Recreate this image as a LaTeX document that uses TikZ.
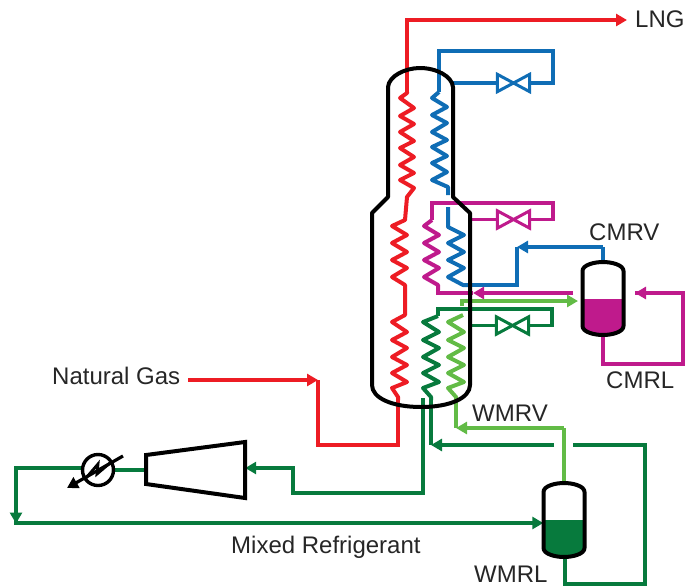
\documentclass[tikz,border=0pt]{standalone}
\usepackage{fontspec}
\setmainfont{Liberation Sans}
\usetikzlibrary{arrows.meta}
\definecolor{cred}{HTML}{ED1C24}
\definecolor{cblue}{HTML}{0F6DB5}
\definecolor{cmag}{HTML}{BF1A8C}
\definecolor{cdg}{HTML}{077A3D}
\definecolor{clg}{HTML}{62BB46}
\tikzset{
  pipe/.style={line width=3.6pt,miter limit=10},
  zig/.style={line width=4pt,line join=round},
  tiphead/.style={-{Triangle[length=11pt,width=12pt]}},
  wall/.style={draw=black,line width=4pt,line join=round},
  valveshape/.style={inner sep=0pt,minimum width=32pt,minimum height=17pt},
  vesselbox/.style={inner sep=0pt,minimum width=41pt},
  lbl/.style={font=\fontsize{24}{26}\selectfont,text=black!85,inner sep=0pt},
}
\newcommand{\valvedraw}[2]{\draw[#2,line width=3pt,line join=miter] (#1.north west) -- (#1.south east) -- (#1.north east) -- (#1.south west) -- cycle;}
\newcommand{\vesseldraw}[6]{% centre x, top, bottom, level, colour, half width
  \fill[#5] (#1-#6,#4) -- (#1+#6,#4) -- (#1+#6,#3-9) .. controls (#1+#6,#3-3) and (#1+9,#3) .. (#1,#3) .. controls (#1-9,#3) and (#1-#6,#3-3) .. (#1-#6,#3-9) -- cycle;
  \draw[wall] (#1-#6,#2+9) .. controls (#1-#6,#2+3) and (#1-9,#2) .. (#1,#2) .. controls (#1+9,#2) and (#1+#6,#2+3) .. (#1+#6,#2+9) -- (#1+#6,#3-9) .. controls (#1+#6,#3-3) and (#1+9,#3) .. (#1,#3) .. controls (#1-9,#3) and (#1-#6,#3-3) .. (#1-#6,#3-9) -- cycle;
}
\begin{document}
\begin{tikzpicture}[x=1pt,y=-1pt]
\useasboundingbox (0,0) rectangle (685,587);

% labels
\node[lbl,anchor=west] (lng) at (635,19) {LNG};
\node[lbl,anchor=west] (ng) at (52,376) {Natural Gas};
\node[lbl,anchor=west] (cmrv) at (589,232) {CMRV};
\node[lbl,anchor=west] (cmrl) at (606,380) {CMRL};
\node[lbl,anchor=west] (wmrv) at (472,413) {WMRV};
\node[lbl,anchor=west] (mr) at (231,547) {Mixed Refrigerant};
\node[lbl,anchor=west] (wmrl) at (474,574) {WMRL};

% equipment anchors
\node[vesselbox,minimum height=73pt] (cmv) at (603,298.5) {};
\node[vesselbox,minimum height=74pt] (wmv) at (564,520) {};
\node[valveshape] (v1) at (513.5,83) {};
\node[valveshape] (v2) at (513.5,219.5) {};
\node[valveshape] (v3) at (512.5,325.5) {};
\node[inner sep=0pt,minimum width=99pt,minimum height=28pt] (comp) at (195.5,470) {};
\node[circle,inner sep=0pt,minimum size=31pt] (hx) at (98,470) {};

% junction coordinates
\coordinate (lngtip) at (627,20);
\coordinate (r1) at (407,20);
\coordinate (r2) at (407,92);
\coordinate (r3) at (398,445);
\coordinate (r4) at (318,445);
\coordinate (r5) at (318,380);
\coordinate (ngs) at (188,380);

% ---- red stream
\draw[pipe,cred,tiphead] (r1) -- (lngtip);
\draw[pipe,cred] (r1) ++(0,-1.8) -- (r2);
\draw[zig,cred] (r2) -- (407,93) -- (400,98) -- (414,108) -- (400,116) -- (414,124) -- (400,132) -- (414,141) -- (400,148) -- (414,157) -- (400,165) -- (414,173) -- (400,180) -- (414,188) -- (407,197) -- (405,220) -- (392,226) -- (407,235) -- (392,243) -- (407,252) -- (392,260) -- (407,268) -- (392,277) -- (405,285) -- (405,315) -- (392,322) -- (407,332) -- (392,340) -- (407,348) -- (392,357) -- (407,365) -- (392,373) -- (407,382) -- (392,388) -- (398,397) -- (398,400);
\draw[pipe,cred] (398,398) -- (r3) -- (r4) -- (r5);
\draw[pipe,cred,tiphead] (ngs) -- (r5);

% ---- blue streams
\coordinate (b1) at (439,92);
\coordinate (b2) at (439,51);
\coordinate (b3) at (553,51);
\coordinate (b4) at (553,83);
\coordinate (bw) at (453,83);
\draw[pipe,cblue] (b1) -- (b2) -- (b3) -- (b4) -- (v1.east);
\draw[pipe,cblue] (v1.west) -- (bw);
\valvedraw{v1}{cblue}
\draw[zig,cblue] (b1) -- (432,98) -- (447,107) -- (432,115) -- (447,123) -- (432,132) -- (447,140) -- (432,147) -- (447,156) -- (432,163) -- (447,172) -- (432,180) -- (448,187) -- (448,195);
\coordinate (b5) at (448,207);
\coordinate (b6) at (517,285);
\coordinate (b7) at (517,247);
\coordinate (b8) at (603,247);
\draw[zig,cblue] (b5) -- (448,227) -- (464,235) -- (448,243) -- (464,252) -- (448,260) -- (464,268) -- (448,277) -- (463,285) -- (470,285);
\draw[pipe,cblue] (465,285) -- (b6) -- (b7);
\draw[pipe,cblue] (517,248.8) -- (b7);
\draw[pipe,cblue,tiphead] (b8) -- (b7);
\draw[pipe,cblue] (cmv.north) -- (b8);

% ---- magenta streams
\coordinate (m1) at (432,220);
\coordinate (m2) at (432,203);
\coordinate (m3) at (553,203);
\coordinate (m4) at (553,219.5);
\coordinate (mw) at (470,219.5);
\draw[pipe,cmag] (m1) -- (m2) -- (m3) -- (m4) -- (v2.east);
\draw[pipe,cmag] (v2.west) -- (mw);
\valvedraw{v2}{cmag}
\coordinate (m5) at (438,293);
\coordinate (m6) at (473,293);
\coordinate (m7) at (573,293);
\draw[zig,cmag] (m1) -- (424,226) -- (439,235) -- (424,243) -- (439,252) -- (424,260) -- (439,268) -- (424,277) -- (438,285) -- (438,290);
\draw[pipe,cmag] (438,285) -- (m5) -- (m6);
\draw[pipe,cmag,tiphead] (m7) -- (m6);
\coordinate (c1) at (603,364);
\coordinate (c2) at (683,364);
\coordinate (c3) at (683,293);
\coordinate (c4) at (635,293);
\draw[pipe,cmag] (cmv.south) -- (c1) -- (c2) -- (c3) -- (c4);
\draw[pipe,cmag,tiphead] (c3) -- (c4);

% ---- light green streams
\coordinate (l1) at (462,306);
\coordinate (l2) at (462,301);
\coordinate (l3) at (578,301);
\draw[pipe,clg] (l1) -- (l2) -- (470,301);
\draw[pipe,clg,tiphead] (l2) -- (l3);
\coordinate (l4) at (463,315);
\coordinate (l5) at (456,428);
\coordinate (l6) at (564,428);
\draw[zig,clg] (l4) -- (448,322) -- (464,332) -- (448,340) -- (464,348) -- (448,357) -- (464,365) -- (448,373) -- (464,382) -- (448,388) -- (456,397) -- (456,400);
\draw[pipe,clg] (456,398) -- (l5);
\draw[pipe,clg,tiphead] (l6) -- (l5);
\draw[pipe,clg] (wmv.north) -- (l6);

% ---- dark green streams
\coordinate (d1) at (438,316);
\coordinate (d2) at (438,309);
\coordinate (d3) at (552,309);
\coordinate (d4) at (552,325.5);
\coordinate (dw) at (470,325.5);
\draw[pipe,cdg] (d1) -- (d2) -- (d3) -- (d4) -- (v3.east);
\draw[pipe,cdg] (v3.west) -- (dw);
\valvedraw{v3}{cdg}
\coordinate (d5) at (431,445);
\coordinate (d6) at (554,445);
\coordinate (d7) at (573,445);
\coordinate (d8) at (645,445);
\coordinate (d9) at (645,584);
\coordinate (d10) at (565,584);
\draw[zig,cdg] (d1) -- (423,322) -- (439,332) -- (423,340) -- (439,348) -- (423,357) -- (439,365) -- (423,373) -- (439,382) -- (423,388) -- (431,397) -- (431,400);
\draw[pipe,cdg] (431,398) -- (d5);
\draw[pipe,cdg,tiphead] (d6) -- (d5);
\draw[pipe,cdg] (wmv.south -| d10) -- (d10) -- (d9) -- (d8) -- (d7);

\coordinate (e1) at (423,398);
\coordinate (e2) at (423,493);
\coordinate (e3) at (293,493);
\coordinate (e4) at (293,468);
\draw[pipe,cdg] (e1) -- (e2) -- (e3) -- (e4) -- (250,468);
\draw[pipe,cdg,tiphead] (e4) -- (comp.east |- e4);
\draw[pipe,cdg] (comp.west) -- (hx.east);
\coordinate (f1) at (16,468);
\coordinate (f2) at (16,523.5);
\draw[pipe,cdg] (hx.west |- f1) -- (f1) -- (f2);
\draw[pipe,cdg,tiphead] (f1) -- (f2);
\draw[pipe,cdg,tiphead] (14.2,523) -- (wmv.west |- 0,523);

% ---- column shell
\draw[wall] (388,197) -- (388,87) .. controls (389,76) and (405,68) .. (420,68) .. controls (436,68) and (452,76) .. (453,87) -- (453,197) -- (470,213) -- (470,385) .. controls (470,398) and (450,407) .. (421,407) .. controls (392,407) and (372,398) .. (372,385) -- (372,213) -- cycle;

% ---- vessels
\vesseldraw{603}{262}{335}{299}{cmag}{20.5}
\vesseldraw{564}{483}{557}{520}{cdg}{20.5}

% ---- compressor
\draw[wall,line join=miter] (146,455) -- (245,442) -- (245,498) -- (146,484) -- cycle;

% ---- cooler
\draw[black,line width=3.4pt] (hx) circle (15.5);
\draw[black,line width=2.8pt] (86,478) -- (98,464) -- (97,474) -- (110,463);
\draw[black,line width=3.2pt,-{Triangle[length=11pt,width=12pt]}] (123,456) -- (67,488);
\end{tikzpicture}
\end{document}
